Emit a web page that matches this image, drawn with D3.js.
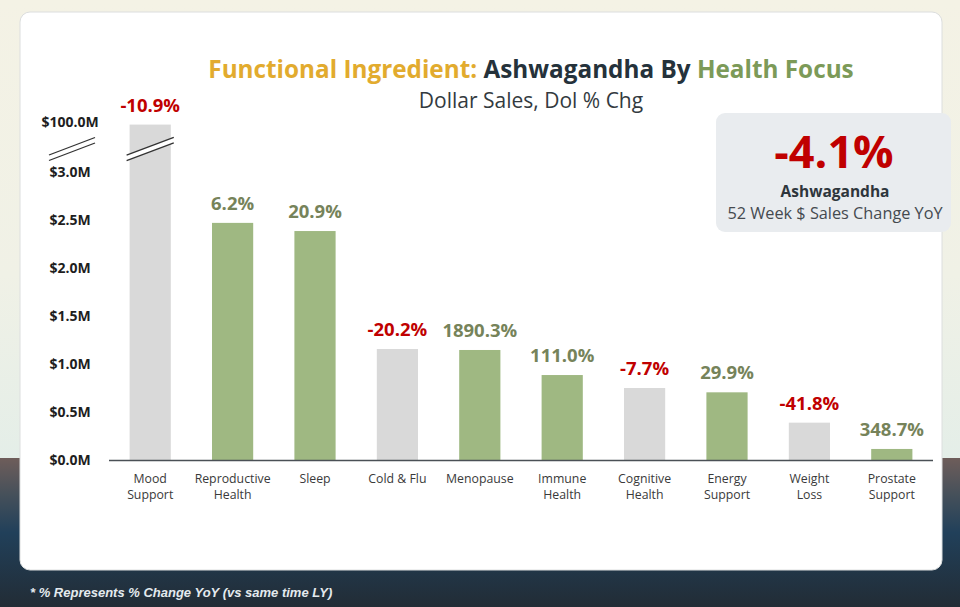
<!DOCTYPE html>
<html><head><meta charset="utf-8">
<script src="https://cdn.jsdelivr.net/npm/d3@7"></script>
<style>
body{margin:0;background:#f3f1e4;}
svg{display:block;}
</style>
</head><body>
<svg id="chart" width="960" height="607"></svg>
<script>
// ---- data ----
const categories = ["Mood Support","Reproductive Health","Sleep","Cold & Flu","Menopause","Immune Health","Cognitive Health","Energy Support","Weight Loss","Prostate Support"];
const categoryLines = [["Mood","Support"],["Reproductive","Health"],["Sleep"],["Cold & Flu"],["Menopause"],["Immune","Health"],["Cognitive","Health"],["Energy","Support"],["Weight","Loss"],["Prostate","Support"]];
const dollarSalesM = [95.0, 2.47, 2.385, 1.156, 1.146, 0.885, 0.75, 0.705, 0.389, 0.115];
const pctChange = [-10.9, 6.2, 20.9, -20.2, 1890.3, 111.0, -7.7, 29.9, -41.8, 348.7];
const yTickValues = [0, 0.5, 1.0, 1.5, 2.0, 2.5, 3.0, 100.0];
const totalChange = -4.1;
const titleParts = [["Functional Ingredient: ","#e2ab2e"],["Ashwagandha By ","#25323b"],["Health Focus","#7c9a58"]];
const subtitle = "Dollar Sales, Dol % Chg";
const calloutName = "Ashwagandha";
const calloutDesc = "52 Week $ Sales Change YoY";
const footnote = "* % Represents % Change YoY (vs same time LY)";

const svg = d3.select("#chart");
const W = 960, H = 607;
const FONT = "'Open Sans', 'Noto Sans', sans-serif";
const loc = d3.formatLocale({decimal: ".", thousands: ",", grouping: [3], currency: ["$", ""], minus: "-"});
const f1 = loc.format(".1f");

// ---- background ----
const defs = svg.append("defs");
const gTop = defs.append("linearGradient").attr("id","bgTop").attr("x1",0).attr("y1",0).attr("x2",0).attr("y2",1);
gTop.append("stop").attr("offset","0%").attr("stop-color","#f4f2e5");
gTop.append("stop").attr("offset","60%").attr("stop-color","#f0f1e6");
gTop.append("stop").attr("offset","100%").attr("stop-color","#e4eee8");
const gBot = defs.append("linearGradient").attr("id","bgBot").attr("x1",0).attr("y1",0).attr("x2",0).attr("y2",1);
gBot.append("stop").attr("offset","0%").attr("stop-color","#6e5d5a");
gBot.append("stop").attr("offset","25%").attr("stop-color","#45505a");
gBot.append("stop").attr("offset","50%").attr("stop-color","#21405a");
gBot.append("stop").attr("offset","100%").attr("stop-color","#222c35");
svg.append("rect").attr("x",0).attr("y",0).attr("width",W).attr("height",458).attr("fill","url(#bgTop)");
svg.append("rect").attr("x",0).attr("y",458).attr("width",W).attr("height",H-458).attr("fill","url(#bgBot)");

// ---- card ----
svg.append("rect").attr("x",20).attr("y",12).attr("width",922).attr("height",558)
  .attr("rx",10).attr("fill","#ffffff").attr("stroke","#dcdede").attr("stroke-width",1);

// ---- scales ----
const x = d3.scaleBand().domain(categories).range([109,933]).paddingInner(0.5).paddingOuter(0.25);
const y = d3.scaleLinear().domain([0,3,100]).range([460,172,122]);

// ---- y axis ----
const yAxis = svg.append("g").attr("transform","translate(91,0)")
  .call(d3.axisLeft(y).tickValues(yTickValues).tickSize(0).tickFormat(d => "$" + f1(d) + "M"));
yAxis.select(".domain").remove();
yAxis.selectAll("text").attr("x",-21).attr("text-anchor","middle").attr("dy","0.35em")
  .style("font-family",FONT).style("font-weight","700").style("font-size","14px").attr("fill","#1e1e1e");

// ---- bars ----
const barG = svg.append("g");
barG.selectAll("rect").data(categories).join("rect")
  .attr("x", d => x(d))
  .attr("width", x.bandwidth())
  .attr("y", (d,i) => y(dollarSalesM[i]))
  .attr("height", (d,i) => y(0) - y(dollarSalesM[i]))
  .attr("fill", (d,i) => pctChange[i] < 0 ? "#d9d9d9" : "#9fb882");

// ---- axis break marks ----
const breakY = y(3) - 23;
function breakMark(x0, x1){
  const g = svg.append("g");
  const slope = -0.38, gap = 5.5, mid = (x0+x1)/2;
  const yl = xx => breakY + (xx - mid) * slope;
  g.append("path").attr("d", `M${x0},${yl(x0)-gap/2} L${x1},${yl(x1)-gap/2} L${x1},${yl(x1)+gap/2} L${x0},${yl(x0)+gap/2} Z`).attr("fill","#ffffff");
  [-gap/2, gap/2].forEach(o => g.append("line").attr("x1",x0).attr("y1",yl(x0)+o).attr("x2",x1).attr("y2",yl(x1)+o)
    .attr("stroke","#333").attr("stroke-width",1.3));
}
breakMark(49, 95);
breakMark(x(categories[0]) - 3, x(categories[0]) + x.bandwidth() + 3);

// ---- x axis line ----
svg.append("line").attr("x1",109).attr("x2",933).attr("y1",460.5).attr("y2",460.5)
  .attr("stroke","#4a5056").attr("stroke-width",1.6);

// ---- x labels ----
const xl = svg.append("g");
categories.forEach((c,i) => {
  const t = xl.append("text").attr("x", x(c) + x.bandwidth()/2).attr("y",483)
    .attr("text-anchor","middle").style("font-family",FONT).style("font-size","12.3px").attr("fill","#3a3a3a");
  categoryLines[i].forEach((ln,j) => t.append("tspan").attr("x", x(c) + x.bandwidth()/2).attr("dy", j===0 ? 0 : 16).text(ln));
});

// ---- value labels ----
svg.append("g").selectAll("text").data(categories).join("text")
  .attr("x", d => x(d) + x.bandwidth()/2)
  .attr("y", (d,i) => y(dollarSalesM[i]) - 13)
  .attr("text-anchor","middle")
  .style("font-family",FONT).style("font-weight","700").style("font-size","18.5px")
  .attr("fill", (d,i) => pctChange[i] < 0 ? "#c00000" : "#76835a")
  .text((d,i) => f1(pctChange[i]) + "%");

// ---- title ----
const title = svg.append("text").attr("x",531).attr("y",78).attr("text-anchor","middle")
  .style("font-family",FONT).style("font-weight","700").style("font-size","24.3px");
titleParts.forEach(p => title.append("tspan").attr("fill",p[1]).text(p[0]));
svg.append("text").attr("x",531).attr("y",108).attr("text-anchor","middle")
  .style("font-family",FONT).style("font-size","21px").attr("fill","#333a40").text(subtitle);

// ---- callout ----
svg.append("rect").attr("x",716).attr("y",113).attr("width",235).attr("height",119).attr("rx",9).attr("fill","#e9ecef");
svg.append("text").attr("x",834).attr("y",168).attr("text-anchor","middle")
  .style("font-family",FONT).style("font-weight","700").style("font-size","45px").attr("fill","#c00000")
  .text(f1(totalChange) + "%");
svg.append("text").attr("x",835).attr("y",197).attr("text-anchor","middle")
  .style("font-family",FONT).style("font-weight","700").style("font-size","15.5px").attr("fill","#2e363c").text(calloutName);
svg.append("text").attr("x",835).attr("y",219).attr("text-anchor","middle")
  .style("font-family",FONT).style("font-size","16.3px").attr("fill","#454a4f").text(calloutDesc);

// ---- footnote ----
svg.append("text").attr("x",30).attr("y",597)
  .style("font-family","'Liberation Sans', Arial, sans-serif").style("font-weight","700").style("font-style","italic")
  .style("font-size","13px").attr("fill","#e4eaee").text(footnote);
</script>
</body></html>
